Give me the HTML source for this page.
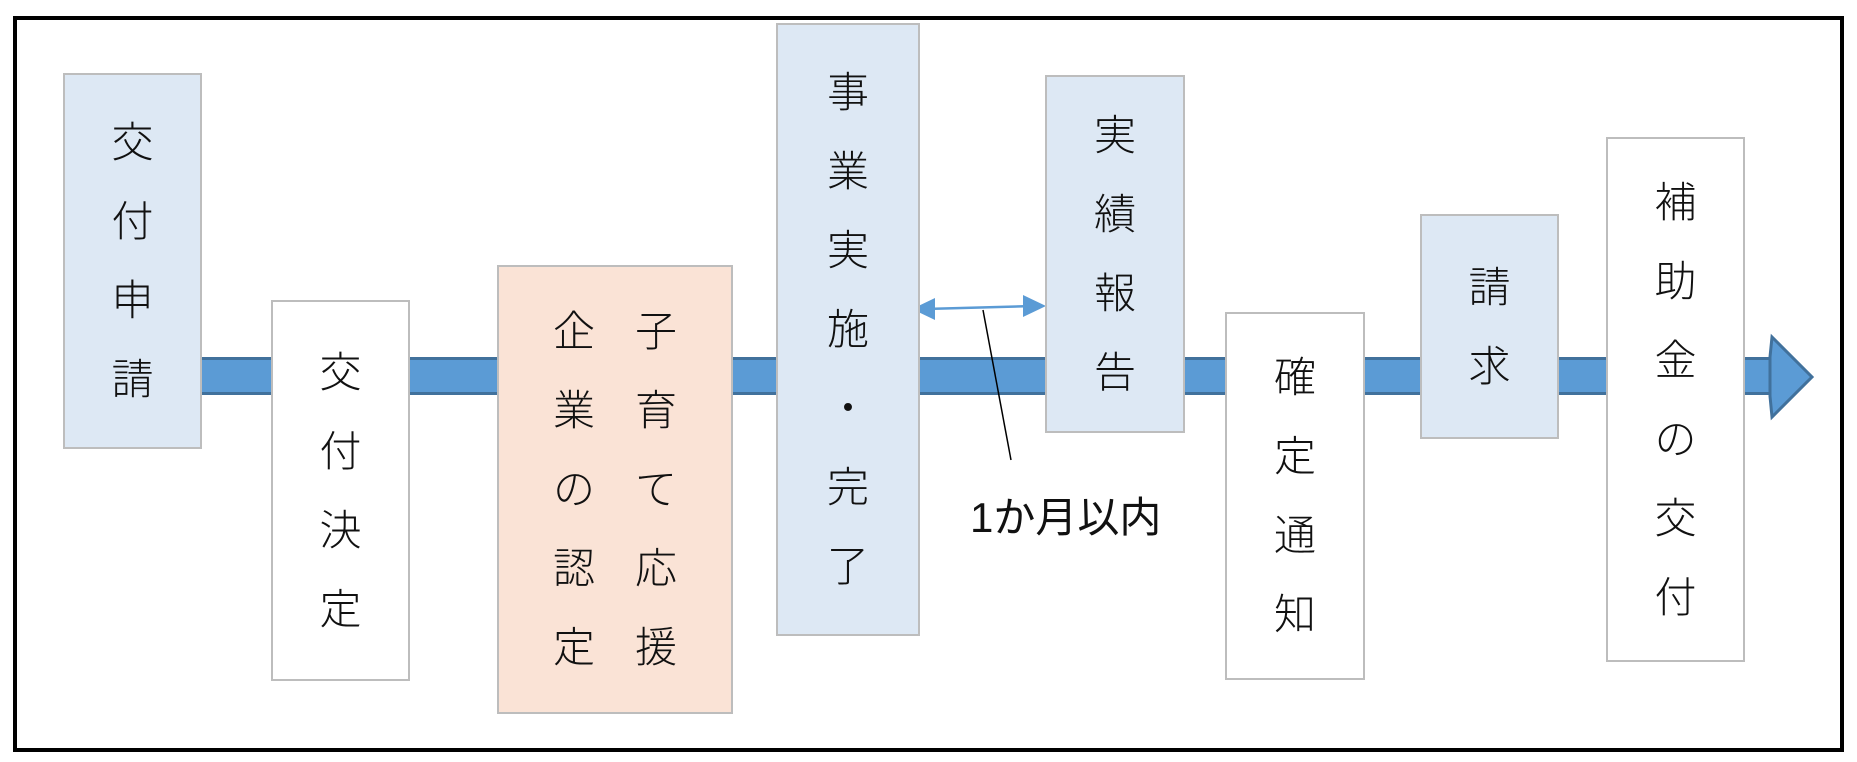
<!DOCTYPE html>
<html><head><meta charset="utf-8"><style>
body{margin:0;width:1857px;height:762px;background:#fff;position:relative;overflow:hidden;font-family:"Liberation Sans","Noto Sans CJK JP",sans-serif;}
.frame{position:absolute;left:13px;top:16px;width:1823px;height:728px;border:4px solid #000;}
.bar{position:absolute;left:195px;top:357px;width:1580px;height:38px;background:#5b9bd5;border-top:3px solid #41719c;border-bottom:3px solid #41719c;box-sizing:border-box;}
.box{position:absolute;border:2.5px solid #bdbdbd;box-sizing:border-box;display:flex;flex-direction:column;align-items:center;justify-content:center;font-size:42px;line-height:79px;color:#111;font-weight:300;}
.b{background:#dde8f4}.w{background:#fff}.p{background:#fae3d6}
.cols{flex-direction:row;gap:40px;align-items:center}
.col{display:flex;flex-direction:column;align-items:center}
</style></head><body>
<div class="frame"></div>
<div class="bar"></div>
<svg style="position:absolute;left:0;top:0" width="1857" height="762">
<polygon points="1770,357 1772,337 1812,377 1772,417 1770,396" fill="#5b9bd5" stroke="#41719c" stroke-width="3"/>
<line x1="925" y1="309" x2="1033" y2="306" stroke="#5b9bd5" stroke-width="2.5"/>
<polygon points="912,309 935,298 935,320" fill="#5b9bd5"/>
<polygon points="1046,306 1023,295 1023,317" fill="#5b9bd5"/>
<line x1="983" y1="310" x2="1011" y2="460" stroke="#000" stroke-width="1.5"/>
</svg>
<div class="box b" style="left:63px;top:73px;width:139px;height:376px"><span>交</span><span>付</span><span>申</span><span>請</span></div>
<div class="box w" style="left:271px;top:300px;width:139px;height:381px"><span>交</span><span>付</span><span>決</span><span>定</span></div>
<div class="box p cols" style="left:497px;top:265px;width:236px;height:449px"><div class="col"><span>企</span><span>業</span><span>の</span><span>認</span><span>定</span></div><div class="col"><span>子</span><span>育</span><span>て</span><span>応</span><span>援</span></div></div>
<div class="box b" style="left:776px;top:23px;width:144px;height:613px"><span>事</span><span>業</span><span>実</span><span>施</span><span>・</span><span>完</span><span>了</span></div>
<div class="box b" style="left:1045px;top:75px;width:140px;height:358px"><span>実</span><span>績</span><span>報</span><span>告</span></div>
<div class="box w" style="left:1225px;top:312px;width:140px;height:368px"><span>確</span><span>定</span><span>通</span><span>知</span></div>
<div class="box b" style="left:1420px;top:214px;width:139px;height:225px"><span>請</span><span>求</span></div>
<div class="box w" style="left:1606px;top:137px;width:139px;height:525px"><span>補</span><span>助</span><span>金</span><span>の</span><span>交</span><span>付</span></div>
<div style="position:absolute;left:970px;top:492px;font-size:42px;line-height:52px;color:#111">1か月以内</div>
</body></html>
